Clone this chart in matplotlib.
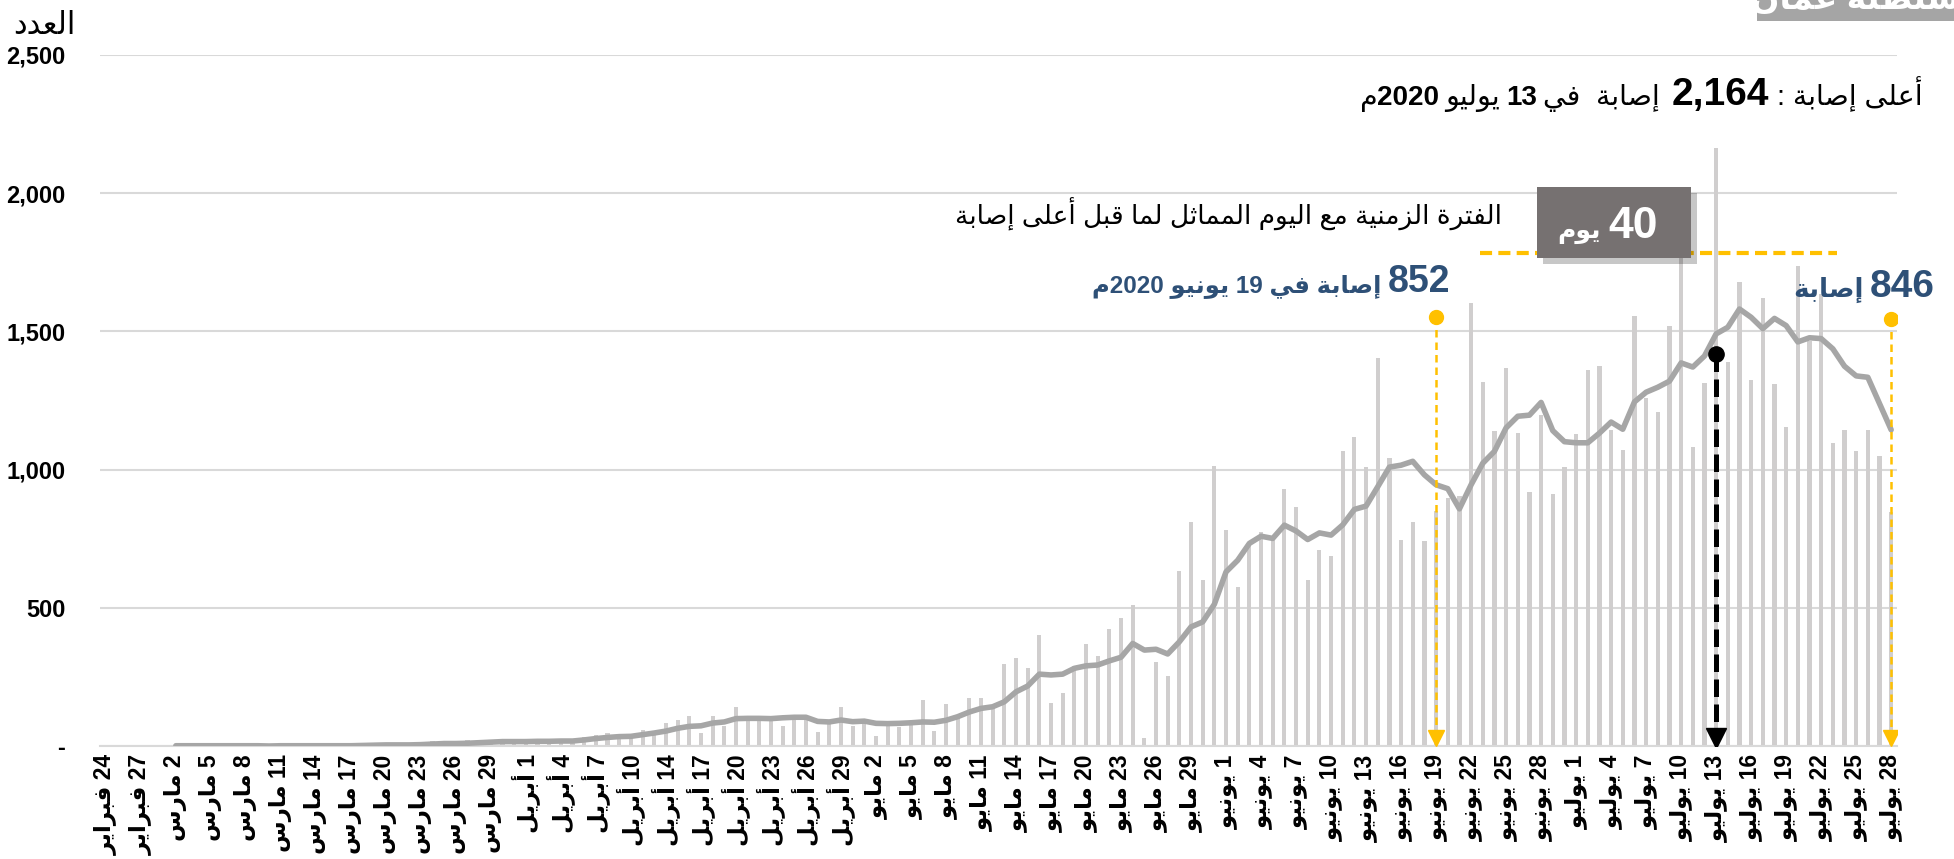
import re

import numpy as np
import matplotlib

matplotlib.use("Agg")
import matplotlib.pyplot as plt
from matplotlib.patches import Rectangle

plt.rcParams["font.family"] = ["Liberation Sans", "DejaVu Sans"]

# ------------------------------------------------------------------
# daily new cases, 24 Feb .. 28 Jul 2020 (one bar per reported day)
cases_feb = [2, 2, 0, 0, 0, 2]
cases_mar = [0, 6, 0, 0, 0, 0, 0, 0, 2, 2, 0, 1, 1, 1, 2, 2, 9, 6, 9, 4,
             3, 11, 18, 15, 10, 22, 21, 15, 12, 13]
cases_apr = [18, 21, 21, 25, 21, 33, 38, 47, 36, 38, 58, 45,
             82, 94, 108, 48, 108, 72, 142, 90, 95, 92, 73, 110, 100, 49, 82, 141, 73]
cases_may = [90, 36, 78, 68, 85, 166, 53, 152, 100, 172, 172, 140, 295, 319, 281, 401,
             157, 190, 290, 369, 325, 422, 462, 510, 30, 305, 253, 634, 809, 600, 1012]
cases_jun = [783, 575, 738, 775, 745, 929, 865, 602, 708, 687, 1066, 1117, 1009, 1404, 1042,
             747, 811, 740, 852, 896, 903, 1603, 1316, 1141, 1366, 1132, 920, 1197, 910, 1009]
cases_jul = [1127, 1360, 1374, 1143, 1070, 1554, 1260, 1210, 1518, 1880, 1081, 1315, 2164, 1389,
             1679, 1324, 1620, 1309, 1155, 1738, 1466, 1635, 1097, 1144, 1066, 1144, 1051, 846]

# 7-day average line (starts on the 7th day)
avg_early = [None] * 6 + [1, 1, 1, 1, 1, 1, 1, 1, 0, 1, 1, 1, 1, 1, 1,
                          1, 2, 3, 4, 4, 4, 5, 7, 9, 9, 10, 12, 14, 16, 16,
                          16, 17, 17, 18, 18, 22]
avg_apr_may = [27, 31, 34, 35, 41, 47, 54, 64, 71, 73, 83, 87, 99, 100, 100, 99, 102,
               104, 104, 89, 87, 94, 88, 90, 82, 81, 82, 84, 87, 86, 93, 106, 123, 136]
avg_may_jun = [142, 160, 196, 217, 260, 257, 260, 281, 290, 293, 308, 321, 371, 347, 350, 333,
               377, 431, 449, 513, 630, 672, 733, 759, 751, 799, 778, 747, 771, 763, 800, 856]
avg_jun_jul = [868, 938, 1009, 1016, 1030, 981, 945, 931, 858, 945, 1023, 1066, 1151, 1193,
               1197, 1243, 1141, 1101, 1097, 1097, 1132, 1172, 1146, 1245]
avg_jul = [1280, 1298, 1320, 1386, 1371, 1411, 1491, 1515, 1581, 1551, 1510, 1547, 1521,
           1462, 1477, 1474, 1437, 1374, 1339, 1334, 1239, 1144]

# x tick labels: every third bar
tick_months = [
    ("فبراير", [24, 27]),
    ("مارس", [2, 5, 8, 11, 14, 17, 20, 23, 26, 29]),
    ("أبريل", [1, 4, 7, 10, 14, 17, 20, 23, 26, 29]),
    ("مايو", [2, 5, 8, 11, 14, 17, 20, 23, 26, 29]),
    ("يونيو", [1, 4, 7, 10, 13, 16, 19, 22, 25, 28]),
    ("يوليو", [1, 4, 7, 10, 13, 16, 19, 22, 25, 28]),
]
y_ticks = [0, 500, 1000, 1500, 2000, 2500]
y_tick_labels = ["-", "500", "1,000", "1,500", "2,000", "2,500"]

REF_DAY = 114      # 19 يونيو
REF_CASES = 852

# ------------------------------------------------------------------
# minimal arabic shaping (presentation forms + right-to-left order)
DUAL = dict(zip("بتثجحخسشصضطظعغفقكلمنهي",
                (0xFE8F, 0xFE95, 0xFE99, 0xFE9D, 0xFEA1, 0xFEA5, 0xFEB1, 0xFEB5, 0xFEB9, 0xFEBD, 0xFEC1,
                 0xFEC5, 0xFEC9, 0xFECD, 0xFED1, 0xFED5, 0xFED9, 0xFEDD, 0xFEE1, 0xFEE5, 0xFEE9, 0xFEF1)))
RIGHT = dict(zip("اأإآةدذرزوى",
                 (0xFE8D, 0xFE83, 0xFE87, 0xFE81, 0xFE93, 0xFEA9, 0xFEAB, 0xFEAD, 0xFEAF, 0xFEED, 0xFEEF)))
LAM_ALEF = dict(zip("اأإآ", (0xFEFB, 0xFEF7, 0xFEF9, 0xFEF5)))


def shape(s):
    out, i = [], 0
    while i < len(s):
        c = s[i]
        prev = s[i - 1] if i > 0 else ""
        nxt = s[i + 1] if i + 1 < len(s) else ""
        jp = prev in DUAL
        if c == "ل" and nxt in LAM_ALEF:
            out.append(chr(LAM_ALEF[nxt] + jp))
            i += 2
            continue
        if c in DUAL:
            jn = nxt in DUAL or nxt in RIGHT
            out.append(chr(DUAL[c] + (3 if jp and jn else 2 if jn else 1 if jp else 0)))
        elif c in RIGHT:
            out.append(chr(RIGHT[c] + jp))
        else:
            out.append(c)
        i += 1
    return "".join(out)


def ar(s):
    runs = re.findall(r"[0-9][0-9,]*|[^0-9]+", shape(s))
    return "".join(r if r[0].isdigit() else r[::-1] for r in reversed(runs))


# ------------------------------------------------------------------
W, H = 1954, 859
fig = plt.figure(figsize=(W / 100, H / 100), dpi=100)
ax = fig.add_axes([100 / W, 113 / H, 1797 / W, 691 / H])
renderer = fig.canvas.get_renderer()


def px(x, y):
    """pixel position from the top-left corner -> figure fraction"""
    return x / W, 1 - y / H


def rtl_text(x_right, y_base, pieces):
    """pieces in reading order (right to left): (text, size, weight, color, gap)"""
    x = x_right
    for text, size, weight, color, gap in pieces:
        fx, fy = px(x, y_base)
        t = fig.text(fx, fy, ar(text), fontsize=size, fontweight=weight, color=color,
                     ha="right", va="baseline", zorder=6)
        x -= t.get_window_extent(renderer).width + gap


cases = np.array(cases_feb + cases_mar + cases_apr + cases_may + cases_jun + cases_jul, dtype=float)
avg7 = np.array(avg_early + avg_apr_may + avg_may_jun + avg_jun_jul + avg_jul, dtype=float)
x = np.arange(len(cases))
peak = int(np.argmax(cases))
last = len(cases) - 1

ax.bar(x, cases, width=0.36, color="#d0cece", zorder=2)
ax.plot(x, avg7, color="#a6a6a6", lw=4, zorder=3, solid_joinstyle="round", solid_capstyle="round")

ax.set_xlim(-0.5, len(cases) - 0.5)
ax.set_ylim(0, 2500)
ax.set_yticks(y_ticks)
ax.set_yticklabels(y_tick_labels, fontsize=17, fontweight="bold")
labels = [ar(f"{d} {m}") for m, days in tick_months for d in days]
ax.set_xticks(x[::3])
ax.set_xticklabels(labels, rotation=90, fontsize=16.5, fontweight="bold", va="top", ha="center")
ax.tick_params(axis="x", length=0, pad=6)
ax.tick_params(axis="y", length=0, pad=25)
ax.yaxis.grid(True, color="#d9d9d9", lw=1.5)
ax.set_axisbelow(True)
for side in ["top", "right", "left"]:
    ax.spines[side].set_visible(False)
ax.spines["bottom"].set_color("#d9d9d9")
ax.spines["bottom"].set_linewidth(1.5)

# markers: reference day, peak, last day
yellow = "#ffc000"
for day, top in [(REF_DAY, 1551), (last, 1545)]:
    ax.plot([day, day], [top, 40], color=yellow, lw=1.8, ls=(0, (3, 2)), zorder=5)
    ax.plot(day, top, "o", ms=10, color=yellow, zorder=5)
    ax.plot(day, 30, marker="v", ms=12, color=yellow, zorder=5)
ax.plot([peak, peak], [1417, 55], color="black", lw=3.6, ls=(0, (3.5, 1.5)), zorder=6)
ax.plot(peak, 1417, "o", ms=11, color="black", zorder=6)
ax.plot(peak, 30, marker="v", ms=15, color="black", zorder=6)
ax.plot([REF_DAY + 3.8, peak + 10.4], [1782, 1782], color=yellow, lw=3, ls=(0, (2.9, 1.5)), zorder=4)

# "40 يوم" box with shadow
for dx, col, a in [(6, "#000000", 0.22), (0, "#767171", 1.0)]:
    fx, fy = px(1537 + dx, 258 + dx)
    fig.patches.append(Rectangle((fx, fy), 154 / W, 71 / H, transform=fig.transFigure,
                                 color=col, alpha=a, lw=0, zorder=5))
rtl_text(1658, 238, [("40", 32, "bold", "white", 8), ("يوم", 18, "bold", "white", 0)])

# top-right tag (cut by the frame, as in the source image)
fx, fy = px(1757, 21)
fig.patches.append(Rectangle((fx, fy), 197 / W, 21 / H, transform=fig.transFigure,
                             color="#a5a5a5", lw=0, zorder=5))
fig.text(*px(1855, 9), ar("سلطنة عمان"), fontsize=24, fontweight="bold", color="white",
         ha="center", va="baseline", zorder=6)

# texts
blue = "#2e5077"
fig.text(*px(76, 34), ar("العدد"), fontsize=22, ha="right", va="baseline")
rtl_text(1923, 105, [("أعلى إصابة :", 20.5, "normal", "black", 8),
                     ("2,164", 28, "bold", "black", 12),
                     ("إصابة  في", 20.5, "normal", "black", 6),
                     ("13", 20, "bold", "black", 6),
                     ("يوليو", 20.5, "normal", "black", 6),
                     ("2020", 20, "bold", "black", 0),
                     ("م", 20.5, "normal", "black", 0)])
rtl_text(1502, 225, [("الفترة الزمنية مع اليوم المماثل لما قبل أعلى إصابة", 19, "normal", "black", 0)])
rtl_text(1450, 292, [(str(REF_CASES), 27, "bold", blue, 6),
                     ("إصابة في 19 يونيو 2020م", 17.5, "bold", blue, 0)])
rtl_text(1935, 297, [(str(int(cases[last])), 28, "bold", blue, 6),
                     ("إصابة", 19, "bold", blue, 0)])

fig.savefig("out.png", dpi=100)
plt.close(fig)
